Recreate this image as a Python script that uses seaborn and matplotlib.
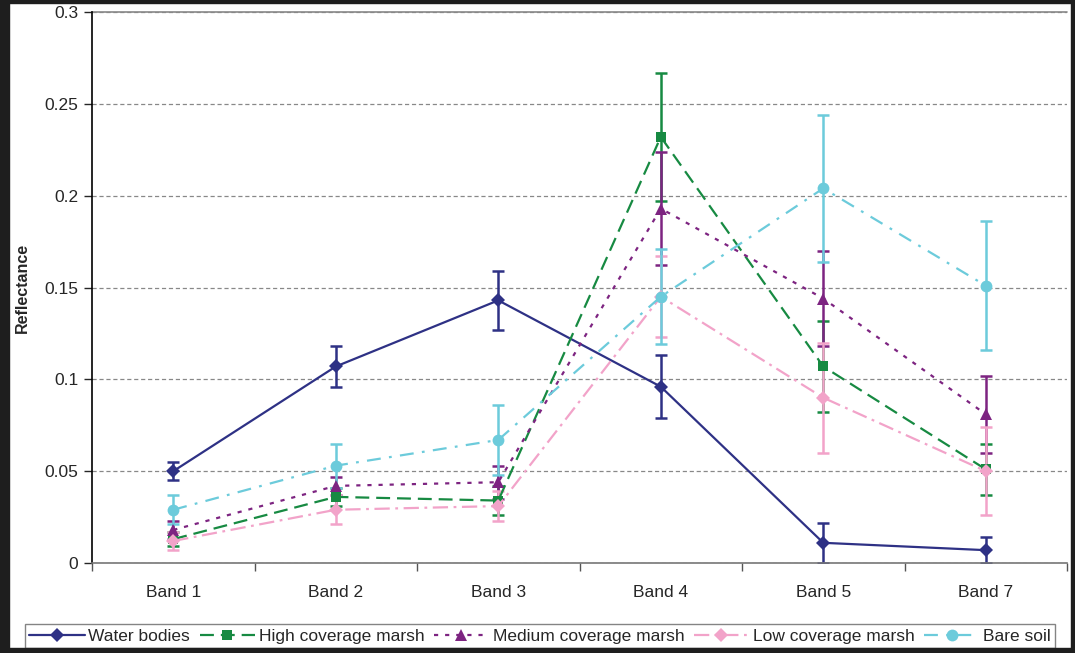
import numpy as np
import pandas as pd
import matplotlib
matplotlib.use("Agg")
import matplotlib.pyplot as plt
from matplotlib.patches import Rectangle
import seaborn as sns

# Datos
bandas = ["Band 1", "Band 2", "Band 3", "Band 4", "Band 5", "Band 7"]

series = ["Water bodies", "High coverage marsh", "Medium coverage marsh",
          "Low coverage marsh", "Bare soil"]

agua = [0.050, 0.107, 0.143, 0.096, 0.011, 0.007]
agua_err = [0.005, 0.011, 0.016, 0.017, 0.011, 0.007]

alta = [0.013, 0.036, 0.034, 0.232, 0.107, 0.051]
alta_err = [0.004, 0.005, 0.008, 0.035, 0.025, 0.014]

media = [0.018, 0.042, 0.044, 0.193, 0.144, 0.081]
media_err = [0.005, 0.005, 0.009, 0.031, 0.026, 0.021]

baja = [0.012, 0.029, 0.031, 0.145, 0.090, 0.050]
baja_err = [0.005, 0.008, 0.008, 0.022, 0.030, 0.024]

suelo = [0.029, 0.053, 0.067, 0.145, 0.204, 0.151]
suelo_err = [0.008, 0.012, 0.019, 0.026, 0.040, 0.035]

valores = [agua, alta, media, baja, suelo]
errores = [agua_err, alta_err, media_err, baja_err, suelo_err]

colores = ["#2E3185", "#178A42", "#7D2481", "#F2A3C9", "#6CCBDB"]
marcadores = ["D", "s", "^", "D", "o"]
tam_marcador = [7, 7.5, 8.5, 7, 8.5]
lineas = ["-", (0, (10, 5)), (0, (3, 5)), (0, (11, 4, 2, 4)), (0, (10, 6, 2, 6))]

sns.set_style("white")
plt.rcParams["font.family"] = ["Liberation Sans", "DejaVu Sans"]
plt.rcParams["lines.scale_dashes"] = False

fig = plt.figure(figsize=(10.75, 6.53), dpi=100)
ax = fig.add_axes([0.0856, 0.1378, 0.9070, 0.8438])

x = np.arange(len(bandas))
for nombre, vals, errs, c, m, ms, ls in zip(series, valores, errores, colores,
                                            marcadores, tam_marcador, lineas):
    df = pd.DataFrame({"x": x, "y": vals})
    ax.errorbar(x, vals, yerr=errs, fmt="none", ecolor=c, elinewidth=1.8,
                capsize=4, capthick=1.8, zorder=2)
    sns.lineplot(data=df, x="x", y="y", ax=ax, color=c, marker=m,
                 markersize=ms, markeredgewidth=0, linestyle=ls,
                 linewidth=1.6, label=nombre, zorder=3)

ax.set_xlim(-0.5, len(bandas) - 0.5)
ax.set_ylim(0, 0.3)
ax.set_yticks(np.arange(0, 0.31, 0.05))
ax.set_yticklabels(["0", "0.05", "0.1", "0.15", "0.2", "0.25", "0.3"])
ax.set_xticks(x)
ax.set_xticklabels(bandas)
ax.set_xticks(np.arange(-0.5, len(bandas), 1), minor=True)
ax.tick_params(axis="x", which="major", length=0, pad=16, labelsize=12.5)
ax.tick_params(axis="x", which="minor", length=6, width=1, color="#555555",
               direction="out", bottom=True)
ax.tick_params(axis="y", length=6, width=1, direction="out", left=True,
               labelsize=12.5, pad=4)

ax.yaxis.grid(True, linestyle=(0, (3, 2)), color="#888888", linewidth=0.9)
ax.set_axisbelow(True)
for lado in ["top", "right"]:
    ax.spines[lado].set_visible(False)
ax.spines["left"].set_color("black")
ax.spines["left"].set_linewidth(1.2)
ax.spines["bottom"].set_color("#777777")
ax.spines["bottom"].set_linewidth(1.2)
ax.axhline(0.3, color="#888888", linewidth=1.2, clip_on=False)

ax.set_xlabel("")
ax.set_ylabel("Reflectance", fontsize=11.5, fontweight="bold", labelpad=10)

leg = ax.legend(loc="lower left", bbox_to_anchor=(25 / 1075, 5 / 653, 1030 / 1075, 28 / 653),
                bbox_transform=fig.transFigure, ncol=5, mode="expand",
                frameon=True, fancybox=False, fontsize=12.5, handlelength=3.2,
                handletextpad=0.2, columnspacing=0.6, borderpad=0.25,
                borderaxespad=0)
leg.get_frame().set_edgecolor("#666666")
leg.get_frame().set_linewidth(1.0)

# marco oscuro alrededor de la figura
W, H = 1075, 653
for (x0, y0, w, h) in [(0, 0, 9, H), (0, H - 3, W, 3), (W - 4, 0, 4, H), (0, 0, W, 5)]:
    fig.patches.append(Rectangle((x0 / W, y0 / H), w / W, h / H,
                                 transform=fig.transFigure, color="#1E1E1E",
                                 zorder=10))

fig.savefig("out.png", dpi=100)
